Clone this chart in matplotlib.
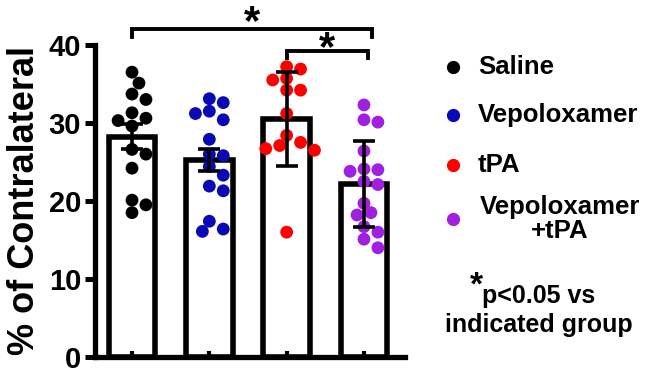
import numpy as np
import matplotlib
matplotlib.use("Agg")
import matplotlib.pyplot as plt
from matplotlib.lines import Line2D

plt.rcParams['font.family'] = ['Liberation Sans', 'DejaVu Sans']
plt.rcParams['font.weight'] = 'bold'

groups = ['Saline', 'Vepoloxamer', 'tPA', 'Vepoloxamer\n+tPA']
colors = ['#000000', '#0a0ab4', '#ff0000', '#a020e0']

saline = [36.5, 35.1, 33.7, 33.0, 31.3, 30.6, 30.3, 29.6, 26.6, 26.0, 24.2, 20.1, 19.5, 18.5]
vepo = [33.1, 32.6, 31.5, 31.2, 30.4, 27.9, 26.0, 25.8, 24.4, 23.3, 21.9, 21.3, 17.4, 16.4, 16.1]
tpa = [37.2, 36.9, 35.7, 35.5, 34.2, 34.2, 31.2, 28.4, 27.5, 27.1, 26.7, 26.5, 16.0]
vepo_tpa = [32.3, 30.4, 30.1, 26.4, 24.1, 24.0, 23.8, 22.5, 22.1, 19.7, 18.5, 18.2, 16.7, 16.0, 15.1, 14.0]
all_points = [saline, vepo, tpa, vepo_tpa]

means = [28.2, 25.3, 30.5, 22.15]
errors = [1.6, 1.4, 6.0, 5.55]

yticks = [0, 10, 20, 30, 40]


def swarm(vals, dx, dy, step):
    # simple beeswarm: place points from top down, nearest free offset
    vals = np.asarray(vals, dtype=float)
    offs = np.zeros(len(vals))
    placed = []
    for i in np.argsort(vals)[::-1]:
        for k in range(40):
            cands = [0.0] if k == 0 else [k * step, -k * step]
            found = None
            for c in cands:
                ok = all(((c - ox) / dx) ** 2 + ((vals[i] - oy) / dy) ** 2 >= 0.85
                         for ox, oy in placed)
                if ok:
                    found = c
                    break
            if found is not None:
                offs[i] = found
                placed.append((found, vals[i]))
                break
    return offs


fig = plt.figure(figsize=(6.5, 3.77), dpi=100)
ax = fig.add_axes([0.146, 0.053, 0.477, 0.828])

x = np.arange(len(groups))
ax.bar(x, means, width=0.6, color='white', edgecolor='black', linewidth=4, zorder=1)

for i, pts in enumerate(all_points):
    offs = swarm(pts, 0.16, 1.6, 0.09)
    ax.scatter(x[i] + offs, pts, s=85, color=colors[i], edgecolors='none', zorder=2)

ax.errorbar(x, means, yerr=errors, fmt='none', ecolor='black', elinewidth=2.6,
            capsize=8, capthick=2.6, zorder=3)

ax.set_xlim(-0.48, 3.53)
ax.set_ylim(0, 40)
ax.set_yticks(yticks)
ax.set_xticks(x)
ax.set_xticklabels([])
ax.tick_params(axis='x', direction='in', length=4, width=3)
ax.tick_params(axis='y', direction='out', length=7, width=3.6, labelsize=21, pad=3)
for lab in ax.get_yticklabels():
    lab.set_fontweight('bold')
for s in ['top', 'right']:
    ax.spines[s].set_visible(False)
for s in ['left', 'bottom']:
    ax.spines[s].set_linewidth(3.8)
ax.set_ylabel('% of Contralateral', fontsize=26, fontweight='bold', labelpad=5)

# significance brackets
ax.plot([0, 0, 3.1, 3.1], [41.0, 42.05, 42.05, 41.0], color='black', lw=2.8,
        clip_on=False, solid_joinstyle='miter')
ax.text(1.55, 41.4, '*', ha='center', va='baseline', fontsize=30, fontweight='bold')
ax.plot([2, 2, 3.05, 3.05], [38.3, 39.2, 39.2, 38.3], color='black', lw=2.8,
        clip_on=False, solid_joinstyle='miter')
ax.text(2.52, 38.0, '*', ha='center', va='baseline', fontsize=30, fontweight='bold')

# legend
leg_y = [67, 115, 165, 219]
for g, c, yy in zip(groups, colors, leg_y):
    fy = 1 - yy / 377
    fig.add_artist(Line2D([453 / 650], [fy], marker='o', markersize=8.5, color=c,
                          linestyle='none', transform=fig.transFigure))
    if '\n' in g:
        fig.text(560 / 650, fy, g, ha='center', va='center', fontsize=18.5,
                 fontweight='bold', multialignment='center', linespacing=1.0)
    else:
        fig.text(478 / 650, fy, g, ha='left', va='center', fontsize=18.5, fontweight='bold')

fig.text(470 / 650, 1 - 286 / 377, '*', ha='left', va='center', fontsize=24, fontweight='bold')
fig.text(482 / 650, 1 - 296 / 377, 'p<0.05 vs', ha='left', va='center', fontsize=18,
         fontweight='bold')
fig.text(539 / 650, 1 - 325 / 377, 'indicated group', ha='center', va='center', fontsize=18,
         fontweight='bold')

fig.savefig('out.png', dpi=100)
